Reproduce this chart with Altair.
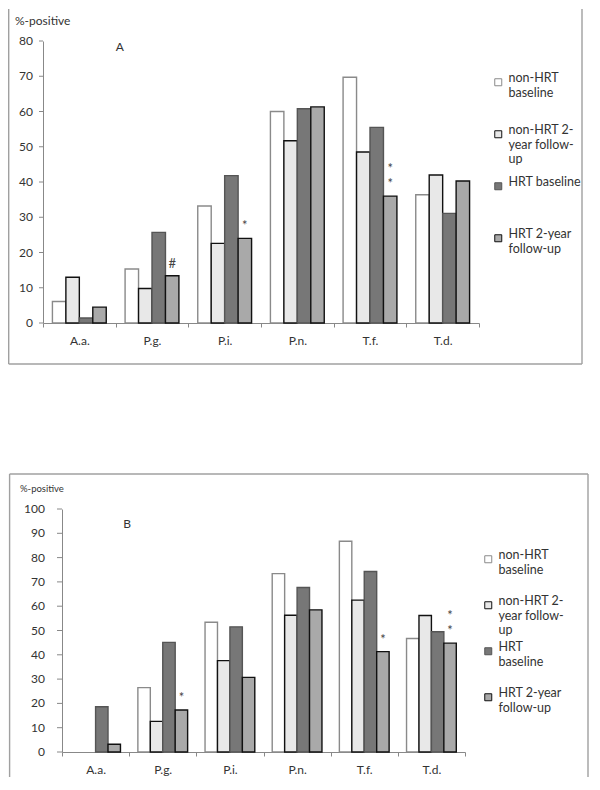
import altair as alt
import pandas as pd

FONT = "Lato"
TXT = "#333333"

categories = ["A.a.", "P.g.", "P.i.", "P.n.", "T.f.", "T.d."]
series = ["non-HRT baseline", "non-HRT 2-year follow-up", "HRT baseline", "HRT 2-year follow-up"]

# Panel A values (% positive)
a_nonhrt_baseline = [6.1, 15.3, 33.2, 60.0, 69.7, 36.4]
a_nonhrt_followup = [13.0, 9.8, 22.6, 51.7, 48.5, 42.0]
a_hrt_baseline = [1.4, 25.7, 41.8, 60.8, 55.5, 31.1]
a_hrt_followup = [4.5, 13.4, 24.0, 61.3, 36.0, 40.3]

# Panel B values (% positive)
b_nonhrt_baseline = [0.0, 26.5, 53.4, 73.4, 86.7, 46.7]
b_nonhrt_followup = [0.0, 12.6, 37.6, 56.3, 62.5, 56.2]
b_hrt_baseline = [18.6, 45.1, 51.5, 67.7, 74.3, 49.5]
b_hrt_followup = [3.2, 17.3, 30.7, 58.5, 41.3, 44.8]

# y-axis tick labels
a_ticks = [0, 10, 20, 30, 40, 50, 60, 70, 80]
b_ticks = [0, 10, 20, 30, 40, 50, 60, 70, 80, 90, 100]

# significance marks (category, series, text)
a_notes = [("P.g.", "HRT 2-year follow-up", "#"),
           ("P.i.", "HRT 2-year follow-up", "*"),
           ("T.f.", "HRT 2-year follow-up", "*\n*")]
b_notes = [("P.g.", "HRT 2-year follow-up", "*"),
           ("T.f.", "HRT 2-year follow-up", "*"),
           ("T.d.", "HRT 2-year follow-up", "*\n*")]

fills = ["#ffffff", "#e8e8e8", "#777777", "#a9a9a9"]
strokes = ["#8a8a8a", "#111111", "#555555", "#111111"]

a_legend = ("{'non-HRT baseline': ['non-HRT', 'baseline'], "
            "'non-HRT 2-year follow-up': ['non-HRT 2-', 'year follow-', 'up'], "
            "'HRT baseline': 'HRT baseline', "
            "'HRT 2-year follow-up': ['HRT 2-year', 'follow-up']}[datum.label]")
b_legend = ("{'non-HRT baseline': ['non-HRT', 'baseline'], "
            "'non-HRT 2-year follow-up': ['non-HRT 2-', 'year follow-', 'up'], "
            "'HRT baseline': ['HRT', 'baseline'], "
            "'HRT 2-year follow-up': ['HRT 2-year', 'follow-up']}[datum.label]")


def long_df(cols):
    rows = []
    for s, vals in zip(series, cols):
        for c, v in zip(categories, vals):
            rows.append({"cat": c, "series": s, "val": v})
    return pd.DataFrame(rows)


def notes_df(df, notes):
    rows = []
    for c, s, t in notes:
        v = float(df[(df.cat == c) & (df.series == s)].val.iloc[0])
        rows.append({"cat": c, "series": s, "val": v, "note": t,
                     "lines": t.count("\n") + 1})
    return pd.DataFrame(rows)


def panel(cols, notes, ticks, x0, x1, h, letter, letter_val, letter_dx,
          ytitle_size, ytitle_x, ylab_pad, ytick, legend_expr, legend_x,
          legend_y, row_pad, frame_l, frame_r, frame_t, frame_b, top_line):
    df = long_df(cols)
    ndf = notes_df(df, notes)
    tdf = pd.DataFrame({"val": ticks})
    ymax = ticks[-1]
    xscale = alt.Scale(domain=categories, paddingInner=0, paddingOuter=0, range=[x0, x1])
    xoscale = alt.Scale(domain=series, paddingInner=0, paddingOuter=0.7)
    yscale = alt.Scale(domain=[0, ymax], nice=False)
    xaxis = alt.Axis(tickBand="extent", labelAngle=0, labelFontSize=12, title=None,
                     labelPadding=8, tickSize=4, tickColor="#888888",
                     domainColor="#888888", labelColor=TXT, labelFont=FONT)
    # y axis: domain line only; ticks and labels are drawn from the tick list below
    yaxis = alt.Axis(title=None, labels=False, ticks=False, grid=False,
                     offset=-x0, domainColor="#888888")
    x = alt.X("cat:N", title=None, scale=xscale, axis=xaxis)
    xo = alt.XOffset("series:N", scale=xoscale)
    y = alt.Y("val:Q", title=None, scale=yscale, axis=yaxis)
    leg = alt.Legend(orient="none", legendX=legend_x, legendY=legend_y, title=None,
                     labelExpr=legend_expr, labelBaseline="alphabetic",
                     labelFontSize=12.5, labelColor=TXT, labelFont=FONT,
                     symbolType="square", symbolSize=49, symbolStrokeWidth=1,
                     rowPadding=row_pad, gridAlign="all", padding=0, labelOffset=4,
                     labelLimit=200)
    bars = alt.Chart(df).transform_filter("datum.val > 0").mark_bar(strokeWidth=1.4).encode(
        x=x, xOffset=xo, y=y,
        fill=alt.Fill("series:N", scale=alt.Scale(domain=series, range=fills), legend=leg),
        stroke=alt.Stroke("series:N", scale=alt.Scale(domain=series, range=strokes), legend=leg),
    )
    ytk = alt.Chart(tdf).mark_rule(color="#888888", strokeWidth=1).encode(
        x=alt.value(x0 - ytick), x2=alt.value(x0), y=y)
    ylab = alt.Chart(tdf).mark_text(align="right", baseline="middle", fontSize=12,
                                    color=TXT, font=FONT).encode(
        x=alt.value(x0 - ytick - ylab_pad), y=y, text="val:Q")
    txt_style = dict(baseline="bottom", lineBreak="\n", lineHeight=15,
                     fontSize=13, color="#444444", font=FONT)
    marks1 = alt.Chart(ndf).transform_filter("datum.lines == 1").mark_text(
        dy=-5, **txt_style).encode(x=x, xOffset=xo, y=y, text="note:N")
    marks2 = alt.Chart(ndf).transform_filter("datum.lines == 2").mark_text(
        dy=-20, **txt_style).encode(x=x, xOffset=xo, y=y, text="note:N")
    lab = alt.Chart(alt.Data(values=[{"k": 1}])).mark_text(
        align="left", baseline="middle", fontSize=12, color=TXT, font=FONT, dx=letter_dx
    ).encode(x=alt.XDatum("P.g.", bandPosition=0, scale=xscale, axis=xaxis),
             y=alt.YDatum(letter_val, scale=yscale, axis=yaxis),
             text=alt.value(letter))
    one = alt.Data(values=[{"k": 1}])
    ttl = alt.Chart(one).mark_text(align="left", baseline="middle", fontSize=ytitle_size,
                                   color=TXT, font=FONT).encode(
        x=alt.value(ytitle_x), y=alt.value(-20), text=alt.value("%-positive"))
    rs = dict(color="#a0a0a0", strokeWidth=1.4)
    layers = [bars, ytk, ylab, marks1, marks2, lab, ttl]
    layers.append(alt.Chart(one).mark_rule(**rs).encode(
        x=alt.value(frame_l), y=alt.value(frame_t), y2=alt.value(frame_b)))
    layers.append(alt.Chart(one).mark_rule(**rs).encode(
        x=alt.value(frame_r), y=alt.value(frame_t), y2=alt.value(frame_b)))
    if top_line:
        layers.append(alt.Chart(one).mark_rule(**rs).encode(
            x=alt.value(frame_l), x2=alt.value(frame_r), y=alt.value(frame_t)))
    else:
        layers.append(alt.Chart(one).mark_rule(**rs).encode(
            x=alt.value(frame_l), x2=alt.value(frame_r), y=alt.value(frame_b)))
    return alt.layer(*layers).properties(width=x1, height=h)


# Both panels share one left origin (page x ~62); panel A's axes start 19px further left.
ha, hb = 282, 243

chart_a = panel([a_nonhrt_baseline, a_nonhrt_followup, a_hrt_baseline, a_hrt_followup],
                a_notes, a_ticks, -19, 417, ha, "A", 78.3, 0, 12, -47, 6, 4, a_legend,
                430, 35, 10, -53.3, 520, -32, ha + 41, False)
chart_b = panel([b_nonhrt_baseline, b_nonhrt_followup, b_hrt_baseline, b_hrt_followup],
                b_notes, b_ticks, 0, 403, hb, "B", 94, -6, 9.5, -42, 12, 5, b_legend,
                420, 44, 4, -52.4, 526, -35, hb + 25, True)

chart = alt.concat(chart_a, chart_b, columns=1, spacing=108).resolve_scale(
    x="independent", y="independent", xOffset="independent",
    fill="independent", stroke="independent"
).resolve_legend(fill="independent", stroke="independent").resolve_axis(
    x="independent", y="independent"
).properties(padding=0).configure_view(stroke=None)

chart.save("out.html", embed_options={"renderer": "svg", "actions": False})
